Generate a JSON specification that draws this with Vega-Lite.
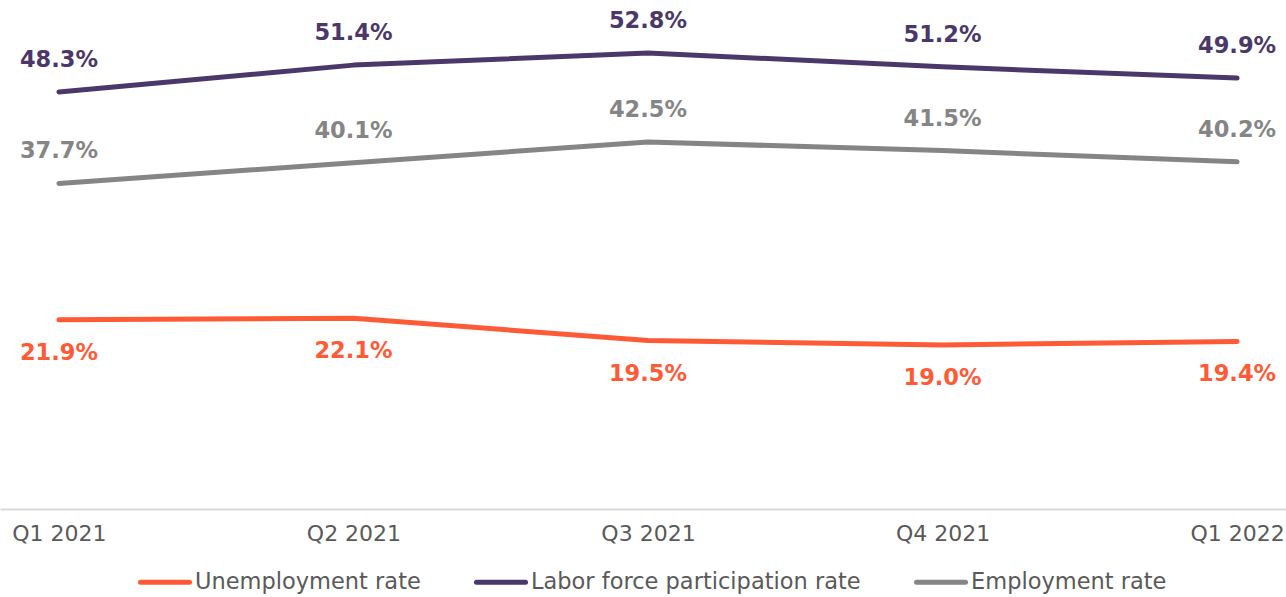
{
  "$schema": "https://vega.github.io/schema/vega-lite/v6.json",
  "width": 1296,
  "height": 509,
  "autosize": {"type": "none"},
  "padding": {"left": 0, "top": 0, "right": 0, "bottom": 88},
  "background": "white",
  "config": {
    "view": {"stroke": null},
    "font": "DejaVu Sans"
  },
  "data": {
    "values": [
      {"quarter": "Q1 2021", "series": "Unemployment rate", "value": 0.219},
      {"quarter": "Q2 2021", "series": "Unemployment rate", "value": 0.221},
      {"quarter": "Q3 2021", "series": "Unemployment rate", "value": 0.195},
      {"quarter": "Q4 2021", "series": "Unemployment rate", "value": 0.190},
      {"quarter": "Q1 2022", "series": "Unemployment rate", "value": 0.194},
      {"quarter": "Q1 2021", "series": "Labor force participation rate", "value": 0.483},
      {"quarter": "Q2 2021", "series": "Labor force participation rate", "value": 0.514},
      {"quarter": "Q3 2021", "series": "Labor force participation rate", "value": 0.528},
      {"quarter": "Q4 2021", "series": "Labor force participation rate", "value": 0.512},
      {"quarter": "Q1 2022", "series": "Labor force participation rate", "value": 0.499},
      {"quarter": "Q1 2021", "series": "Employment rate", "value": 0.377},
      {"quarter": "Q2 2021", "series": "Employment rate", "value": 0.401},
      {"quarter": "Q3 2021", "series": "Employment rate", "value": 0.425},
      {"quarter": "Q4 2021", "series": "Employment rate", "value": 0.415},
      {"quarter": "Q1 2022", "series": "Employment rate", "value": 0.402}
    ]
  },
  "encoding": {
    "x": {
      "field": "quarter",
      "type": "ordinal",
      "sort": null,
      "scale": {"type": "point", "padding": 0.2},
      "axis": {
        "title": null,
        "labelAngle": 0,
        "labelFontSize": 22,
        "labelColor": "#595959",
        "labelPadding": 14,
        "labelDx": 3,
        "ticks": false,
        "domainColor": "#D9D9D9",
        "domainWidth": 2,
        "grid": false
      }
    },
    "y": {
      "field": "value",
      "type": "quantitative",
      "scale": {"domain": [0, 0.5894], "nice": false, "zero": true},
      "axis": null
    },
    "color": {
      "field": "series",
      "type": "nominal",
      "scale": {
        "domain": ["Unemployment rate", "Labor force participation rate", "Employment rate"],
        "range": ["#FF5A36", "#4B386A", "#858585"]
      },
      "legend": {
        "title": null,
        "orient": "none",
        "legendX": 138,
        "legendY": 555,
        "direction": "horizontal",
        "symbolType": "stroke",
        "symbolSize": 2401,
        "symbolStrokeWidth": 5,
        "labelFontSize": 22.5,
        "labelColor": "#595959",
        "labelOffset": 3,
        "columnPadding": 45,
        "labelLimit": 500,
        "encode": {"symbols": {"update": {"strokeCap": {"value": "round"}}}}
      }
    }
  },
  "layer": [
    {
      "mark": {"type": "line", "strokeWidth": 5, "strokeCap": "round", "strokeJoin": "round"},
      "encoding": {"detail": {"field": "series"}}
    },
    {
      "transform": [{"filter": "datum.series !== 'Unemployment rate'"}],
      "mark": {"type": "text", "fontSize": 22.5, "fontWeight": "bold", "dy": -32, "baseline": "middle"},
      "encoding": {"text": {"field": "value", "type": "quantitative", "format": ".1%"}}
    },
    {
      "transform": [{"filter": "datum.series === 'Unemployment rate'"}],
      "mark": {"type": "text", "fontSize": 22.5, "fontWeight": "bold", "dy": 33, "baseline": "middle"},
      "encoding": {"text": {"field": "value", "type": "quantitative", "format": ".1%"}}
    }
  ]
}
